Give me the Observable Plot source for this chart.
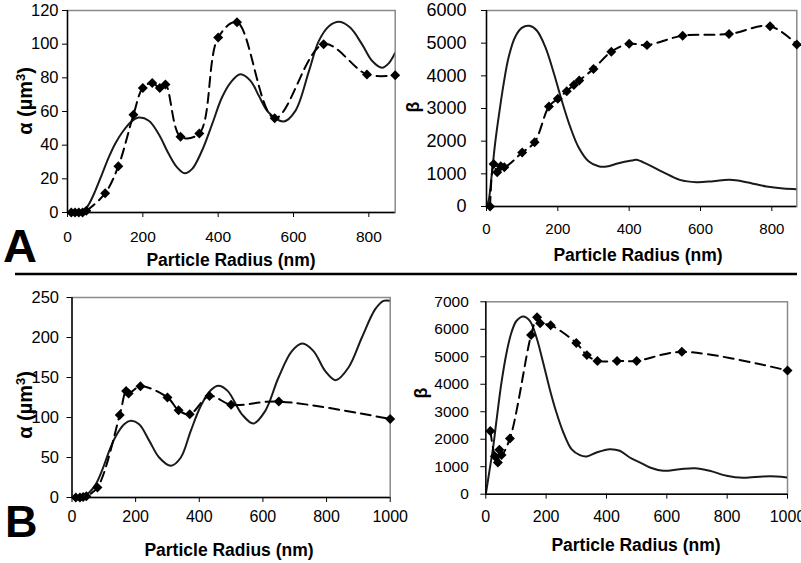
<!DOCTYPE html>
<html><head><meta charset="utf-8">
<script src="https://cdn.jsdelivr.net/npm/d3@7"></script>
<script src="https://cdn.jsdelivr.net/npm/@observablehq/plot@0.6"></script>
<style>
body{margin:0;background:#fff;}
#wrap{position:relative;width:801px;height:563px;overflow:hidden;background:#fff;font-family:"Liberation Sans",Arial,sans-serif;}
#wrap > svg{position:absolute;}
</style></head><body><div id="wrap"></div>
<script>
// ---------- Panel A, alpha ----------
const aAlphaTheoryX = [10,30,40,57,74,92,110,127,145,167,189,216,242,269,291,311,331,357,384,410,433,459,486,508,534,574,605,641,667,694,722,751,782,809,835,853,870];
const aAlphaTheoryY = [0,0,0,5,13,23,33,41,47.5,53.5,56.4,54.5,46.6,34.7,26.8,23.3,25.9,36.7,52.5,68.3,77.2,82.1,78.2,69.3,59.4,54.1,60.4,84,101.8,110.7,113.3,109.7,99.9,90,86,88.7,94.9];
const aAlphaExpX = [10,20,30,40,50,100,135,175,200,225,245,260,300,350,400,450,550,680,795,870];
const aAlphaExpY = [0,0,0,0,1,11.5,27.5,58,74,77,74,76,45,47,104,113,56,100,82,81.5];
// ---------- Panel A, beta ----------
const aBetaTheoryX = [0,6,15,24,34,48,62,80,99,120,141,165,188,211,235,258,286,314,337,370,407,420,449,495,542,589,636,682,729,785,832,870];
const aBetaTheoryY = [0,184,1000,1918,2734,3755,4571,5183,5469,5530,5387,4877,4112,3245,2428,1816,1387,1234,1224,1326,1408,1428,1306,1051,816,745,776,816,745,612,551,531];
const aBetaExpX = [10,20,30,40,50,100,135,175,200,225,245,260,300,350,400,450,550,680,795,870];
const aBetaExpY = [0,1300,1050,1230,1200,1650,1970,3060,3300,3530,3720,3860,4210,4740,4980,4940,5230,5280,5520,4960];
// ---------- Panel B, alpha ----------
const bAlphaTheoryX = [30,54,75,96,117,138,164,185,211,243,274,311,342,373,405,436,460,489,534,570,607,649,691,724,759,796,829,869,911,953,979,1000];
const bAlphaTheoryY = [0,6.2,16.7,35.4,58.3,77,91.7,95.8,91.7,70.8,50,39.6,50,83,114.6,134,139.6,133.3,104,92.5,108,150,183,192.5,183,158,146.7,162.5,200,235.4,245.8,245.8];
const bAlphaExpX = [12,25,35,45,80,150,170,178,215,300,335,370,432,500,650,1000];
const bAlphaExpY = [0,0,0.6,1.7,12.5,103,133,130,139,125,109,104,127,116,120,98];
// ---------- Panel B, beta ----------
const bBetaTheoryX = [0,13,25,36,52,69,85,102,124,146,168,190,212,234,257,284,312,334,367,411,444,477,510,544,588,643,693,742,798,853,919,964,1000];
const bBetaTheoryY = [0,910,1760,2730,4065,5156,5884,6310,6467,6310,5702,4793,3822,2973,2245,1638,1419,1372,1517,1638,1579,1335,1160,972,852,910,946,852,670,597,644,644,608];
const bBetaExpX = [15,30,40,45,52,80,150,170,180,215,300,335,370,435,500,650,1000];
const bBetaExpY = [2300,1380,1150,1620,1430,2030,5790,6440,6220,6150,5500,5060,4850,4850,4850,5180,4500];

// ---------- ticks & labels ----------
const aXTicks = [0,200,400,600,800];
const bXTicks = [0,200,400,600,800,1000];
const aAlphaTicks = [0,20,40,60,80,100,120];
const aBetaTicks = [0,1000,2000,3000,4000,5000,6000];
const bAlphaTicks = [0,50,100,150,200,250];
const bBetaTicks = [0,1000,2000,3000,4000,5000,6000,7000];
const xTitle = "Particle Radius (nm)";
const panelLetters = ["A","B"];

const wrap = document.getElementById("wrap");
const FONT = "'Liberation Sans', Arial, Helvetica, sans-serif";

function panel(o) {
  const theory = o.tx.map((x,i)=>({x, y:o.ty[i]}));
  const exp = o.ex.map((x,i)=>({x, y:o.ey[i]}));
  const p = Plot.plot({
    width:o.width, height:o.height,
    marginLeft:o.ml, marginRight:o.mr, marginTop:o.mt, marginBottom:o.mb,
    style:{background:"transparent", overflow:"visible", fontFamily:FONT, fontSize:"16px", color:"#000"},
    x:{domain:o.xd}, y:{domain:o.yd},
    marks:[
      Plot.frame({stroke:"#8a8a8a", strokeWidth:1.5}),
      Plot.line(theory,{x:"x",y:"y",curve:"catmull-rom",stroke:"#1a1a1a",strokeWidth:2,clip:true}),
      Plot.line(exp,{x:"x",y:"y",curve:"catmull-rom",stroke:"#000",strokeWidth:2,strokeDasharray:"10,6",clip:true}),
      Plot.dot(exp,{x:"x",y:"y",symbol:"diamond2",r:4.5,fill:"#000",stroke:"none"}),
      Plot.ruleX([o.xd[0]],{stroke:"#000",strokeWidth:1.4}),
      Plot.ruleY([o.yd[0]],{stroke:"#000",strokeWidth:1.4}),
      Plot.axisX({ticks:o.xt, tickSize:5, tickPadding:o.xpad, label:null, tickFormat:d=>String(d), fontSize:o.xfs}),
      Plot.axisY({ticks:o.yt, tickSize:5, tickPadding:o.ypad, label:null, tickFormat:d=>String(d), fontSize:o.yfs})
    ]
  });
  p.style.left = o.left+"px"; p.style.top = o.top+"px";
  wrap.appendChild(p);
}

panel({tx:aAlphaTheoryX,ty:aAlphaTheoryY,ex:aAlphaExpX,ey:aAlphaExpY,xd:[0,870],yd:[0,120],xt:aXTicks,yt:aAlphaTicks,
  left:0,top:0,width:400,height:250,ml:67,mr:5.3,mt:10,mb:38,xpad:13,ypad:4,xfs:15.5,yfs:16.5});
panel({tx:aBetaTheoryX,ty:aBetaTheoryY,ex:aBetaExpX,ey:aBetaExpY,xd:[0,870],yd:[0,6000],xt:aXTicks,yt:aBetaTicks,
  left:400,top:0,width:401,height:245,ml:86,mr:4.7,mt:10,mb:39,xpad:12,ypad:15,xfs:15,yfs:18});
panel({tx:bAlphaTheoryX,ty:bAlphaTheoryY,ex:bAlphaExpX,ey:bAlphaExpY,xd:[0,1000],yd:[0,250],xt:bXTicks,yt:bAlphaTicks,
  left:0,top:285,width:400,height:250,ml:71.5,mr:10.3,mt:12,mb:38,xpad:8,ypad:8,xfs:16,yfs:16.5});
panel({tx:bBetaTheoryX,ty:bBetaTheoryY,ex:bBetaExpX,ey:bBetaExpY,xd:[0,1000],yd:[0,7000],xt:bXTicks,yt:bBetaTicks,
  left:400,top:285,width:401,height:250,ml:85.3,mr:14,mt:16.3,mb:41.3,xpad:11,ypad:12,xfs:16,yfs:15.5});

// overlay: panel letters, separator, axis titles
const ov = d3.select(wrap).append("svg").attr("width",801).attr("height",563)
  .style("left","0px").style("top","0px").style("pointer-events","none")
  .attr("font-family",FONT);
ov.append("line").attr("x1",15).attr("x2",797).attr("y1",274).attr("y2",274).attr("stroke","#000").attr("stroke-width",2.5);
ov.append("text").attr("x",3).attr("y",262).attr("font-size",47).attr("font-weight","bold").text(panelLetters[0]);
ov.append("text").attr("x",5).attr("y",537).attr("font-size",45).attr("font-weight","bold").text(panelLetters[1]);
[[231,266],[638,261],[229,556],[636,551]].forEach(([x,y])=>{
  ov.append("text").attr("x",x).attr("y",y).attr("text-anchor","middle").attr("font-size",17.5).attr("font-weight","bold").text(xTitle);
});
function alphaLabel(cx, cy){
  const t = ov.append("text").attr("transform",`translate(${cx},${cy}) rotate(-90)`).attr("text-anchor","middle")
    .attr("dy","0.35em").attr("font-size",20).attr("font-weight","bold");
  t.append("tspan").text("α (µm");
  t.append("tspan").attr("baseline-shift","super").attr("font-size","65%").text("3");
  t.append("tspan").text(")");
}
alphaLabel(25,101);
alphaLabel(25,405);
function betaLabel(cx, cy){
  ov.append("text").attr("transform",`translate(${cx},${cy}) rotate(-90)`).attr("text-anchor","middle")
    .attr("dy","0.35em").attr("font-size",18).attr("font-weight","bold").text("β");
}
betaLabel(413,107);
betaLabel(421,393);
</script></body></html>
